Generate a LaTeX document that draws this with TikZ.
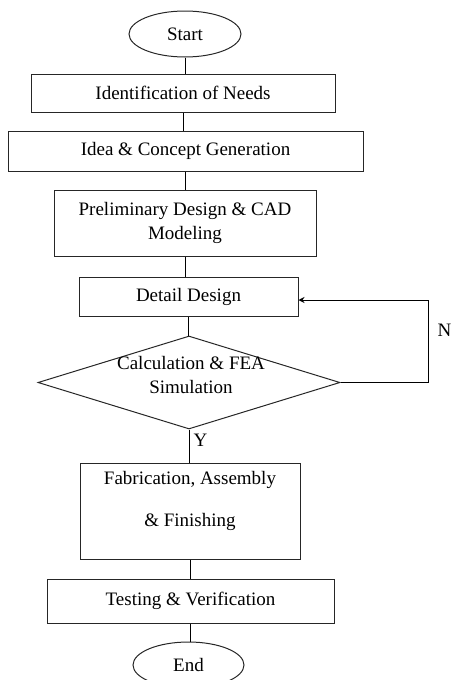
\documentclass[tikz,border=0pt]{standalone}
\usepackage{fontspec}
\setmainfont{Liberation Serif}
\usetikzlibrary{shapes.geometric, arrows.meta}

\begin{document}
\begin{tikzpicture}[x=1pt, y=-1pt, line width=1pt,
        font=\fontsize{19}{24}\selectfont,
        blok/.style={draw=black!85, rectangle, align=center, inner sep=2pt},
        oval/.style={draw=black!85, ellipse, minimum width=112pt, minimum height=46pt, inner sep=0pt},
        romb/.style={draw=black!85, diamond, minimum width=302pt, minimum height=93pt, inner sep=0pt}]
        % рамка
        \useasboundingbox ( 0, 0 ) rectangle ( 450, 680 );

        % блоки
        \node [oval] (start) at ( 185, 34 ) {Start};
        \node [blok, minimum width=304pt, minimum height=38pt] (needs) at ( 183, 93 ) {Identification of Needs};
        \node [blok, minimum width=355pt, minimum height=40pt] (idea) at ( 185.5, 151 ) {Idea \& Concept Generation};
        \node [blok, minimum width=262pt, minimum height=66pt] (prelim) at ( 185, 223 ) {Preliminary Design \& CAD\\Modeling};
        \node [blok, minimum width=219pt, minimum height=39pt] (detail) at ( 188.5, 296.5 ) {Detail Design};
        \node [romb] (calc) at ( 189, 382.5 ) {};
        \node [align=center, inner sep=0pt] (calctext) at ( 191, 375 ) {Calculation \& FEA\\Simulation};
        \node [blok, minimum width=220pt, minimum height=96pt, text depth=25pt] (fab) at ( 190, 511 ) {Fabrication, Assembly\\[18pt]\& Finishing};
        \node [blok, minimum width=287pt, minimum height=44pt] (test) at ( 190.5, 601 ) {Testing \& Verification};
        \node [oval, minimum width=111pt] (stop) at ( 188.5, 665 ) {End};

        % связи
        \draw (start.south) -- (start.south |- needs.north);
        \draw (needs.south) -- (needs.south |- idea.north);
        \draw (idea.south) -- (idea.south |- prelim.north);
        \draw (prelim.south) -- (prelim.south |- detail.north);
        \draw (detail.south) -- (detail.south |- calc.north);
        \draw (calc.south) -- (calc.south |- fab.north);
        \draw (fab.south) -- (fab.south |- test.north);
        \draw (test.south) -- (test.south |- stop.north);

        % возврат
        \coordinate (nturn) at ( 428, 300 );
        \draw (calc.east) -| (nturn);
        \draw [-{Stealth[length=6pt, width=6pt]}] (nturn) -- (detail.east |- nturn);

        % подписи
        \node [anchor=west, inner sep=0pt] (nlabel) at ( 437, 330 ) {N};
        \node [anchor=west, inner sep=0pt] (ylabel) at ( 193, 440 ) {Y};
    \end{tikzpicture}
\end{document}
